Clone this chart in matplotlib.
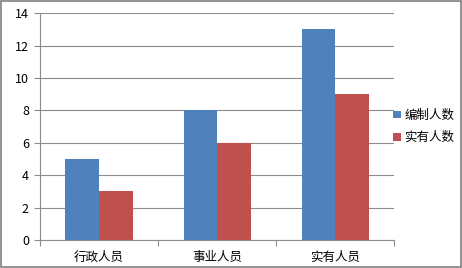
import numpy as np
import matplotlib
matplotlib.use("Agg")
import matplotlib.pyplot as plt
from matplotlib.patches import Rectangle

plt.rcParams['font.family'] = ['Noto Sans CJK SC', 'DejaVu Sans']

# chart data
categories = ['行政人员', '事业人员', '实有人员']
series_names = ['编制人数', '实有人数']
planned = [5, 8, 13]
actual = [3, 6, 9]
colors = ['#4F81BD', '#C0504D']

fig = plt.figure(figsize=(4.62, 2.68), dpi=100)
ax = fig.add_axes([0.0866, 0.1045, 0.767, 0.8465])

x = np.arange(len(categories))
w = 0.285
ax.bar(x - w / 2, planned, w, color=colors[0], label=series_names[0], zorder=3)
ax.bar(x + w / 2, actual, w, color=colors[1], label=series_names[1], zorder=3)

ax.set_xlim(-0.5, len(categories) - 0.5)
ax.set_ylim(0, 14)
ax.set_yticks(range(0, 15, 2))
ax.grid(axis='y', color='#8C8C8C', linewidth=0.8, zorder=0)

# category boundaries as major ticks, labels on minor ticks
ax.set_xticks(np.arange(-0.5, len(categories), 1.0))
ax.set_xticklabels([])
ax.set_xticks(x, minor=True)
ax.set_xticklabels(categories, minor=True)
ax.tick_params(axis='x', which='minor', length=0, pad=8, labelsize=9)
ax.tick_params(axis='x', which='major', length=4, color='#8C8C8C')
ax.tick_params(axis='y', length=4, color='#8C8C8C', labelsize=9, pad=4)

for s in ['top', 'right']:
    ax.spines[s].set_visible(False)
for s in ['left', 'bottom']:
    ax.spines[s].set_color('#8C8C8C')
    ax.spines[s].set_linewidth(0.8)

leg = ax.legend(loc='center left', bbox_to_anchor=(0.965, 0.5), frameon=False,
                fontsize=9, handlelength=0.6, handleheight=0.6,
                handletextpad=0.3, labelspacing=0.75)

# outer chart border
fig.patches.append(Rectangle((0.002, 0.004), 0.995, 0.992, transform=fig.transFigure,
                             fill=False, edgecolor='#7F7F7F', linewidth=1.2))

fig.savefig('out.png', dpi=100)
